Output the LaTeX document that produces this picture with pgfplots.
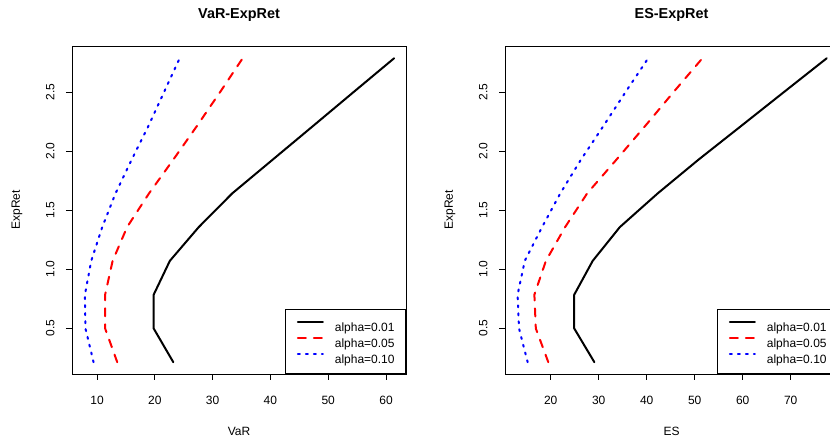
\documentclass[border=0pt]{standalone}
\usepackage{fontspec}
\setmainfont{Liberation Sans}
\usepackage{pgfplots}
\usepackage{pgfplotstable}
\pgfplotsset{compat=1.18}

% ret: expected return; black: alpha=0.01, red: alpha=0.05, blue: alpha=0.10
\pgfplotstableread{
ret   vb    vr    vu
0.210 23.2  13.5  9.4
0.496 19.8  11.4  8.0
0.782 19.8  11.4  7.9
1.069 22.6  12.7  9.0
1.355 27.6  15.2  10.9
1.641 33.4  19.0  13.2
1.927 40.4  23.2  16.0
2.213 47.4  27.3  18.9
2.500 54.4  31.3  21.6
2.786 61.4  35.2  24.3
}\vartab

\pgfplotstableread{
ret   eb    er    eu
0.210 29.1  19.5  15.2
0.496 24.9  16.9  13.4
0.782 24.9  16.6  13.1
1.069 28.75 19.0  14.6
1.355 34.4  23.0  18.2
1.641 42.3  27.6  22.0
1.927 50.8  33.7  26.3
2.213 59.7  39.7  31.0
2.500 68.6  45.6  35.6
2.786 77.5  51.6  40.3
}\estab

\pgfplotsset{
  rpanel/.style={
    scale only axis, height=328pt,
    ymin=0.110, ymax=2.890,
    ytick={0.5,1,1.5,2,2.5},
    xtick pos=bottom, ytick pos=left,
    tick align=outside, major tick length=6pt,
    tick style={black, line width=0.8pt},
    axis line style={black, line width=0.8pt},
    /pgf/number format/assume math mode=true,
    tick label style={font=\fontsize{12}{14}\selectfont},
    y tick label style={rotate=90, anchor=south, /pgf/number format/.cd, fixed, fixed zerofill, precision=1},
    x tick label style={/pgf/number format/.cd, fixed, precision=0},
    xticklabel shift=13pt,
    yticklabel shift=8pt,
    every axis x label/.style={at={(axis description cs:0.5,0)}, yshift=-57pt, anchor=center, font=\fontsize{12}{14}\selectfont},
    every axis y label/.style={at={(axis description cs:0,0.5)}, xshift=-55pt, rotate=90, anchor=center, font=\fontsize{12}{14}\selectfont},
    every axis title/.style={at={(axis description cs:0.5,1)}, yshift=31pt, anchor=center, font=\bfseries\fontsize{14.4}{17}\selectfont},
    legend cell align=left,
    legend style={at={(rel axis cs:1,0)}, anchor=south east, draw=black, line width=0.8pt,
      font=\fontsize{12}{14}\selectfont,
      inner xsep=11pt, inner ysep=9.85pt, row sep=4pt,
      nodes={inner sep=0pt, text height=12pt, text depth=0pt},
      /tikz/every odd column/.append style={column sep=11pt}},
    legend image code/.code={\draw[##1] (0pt,3.5pt) -- (25pt,3.5pt);},
  },
  sblack/.style={black, line width=2pt, line join=round, line cap=round},
  sred/.style={red, line width=2pt, line join=round, line cap=round, dash pattern=on 8pt off 8pt},
  sblue/.style={blue, line width=2pt, line join=round, line cap=round, dash pattern=on 2pt off 6pt},
}

\begin{document}
\begin{tikzpicture}
\begin{axis}[rpanel, at={(72pt,70pt)}, anchor=south west, width=334pt,
  xmin=5.67, xmax=63.46, xtick={10,20,30,40,50,60},
  title={VaR-ExpRet}, xlabel={VaR}, ylabel={ExpRet}]
  \addplot[sblack] table[x=vb, y=ret] {\vartab};
  \addplot[sred] table[x=vr, y=ret] {\vartab};
  \addplot[sblue] table[x=vu, y=ret] {\vartab};
  \legend{alpha=0.01, alpha=0.05, alpha=0.10}
\end{axis}
\begin{axis}[rpanel, at={(505pt,70pt)}, anchor=south west, width=333pt,
  xmin=10.48, xmax=79.85, xtick={20,30,40,50,60,70},
  title={ES-ExpRet}, xlabel={ES}, ylabel={ExpRet}]
  \addplot[sblack] table[x=eb, y=ret] {\estab};
  \addplot[sred] table[x=er, y=ret] {\estab};
  \addplot[sblue] table[x=eu, y=ret] {\estab};
  \legend{alpha=0.01, alpha=0.05, alpha=0.10}
\end{axis}
\pgfresetboundingbox
\path[use as bounding box] (0pt,0pt) rectangle (830pt,444pt);
\end{tikzpicture}
\end{document}
